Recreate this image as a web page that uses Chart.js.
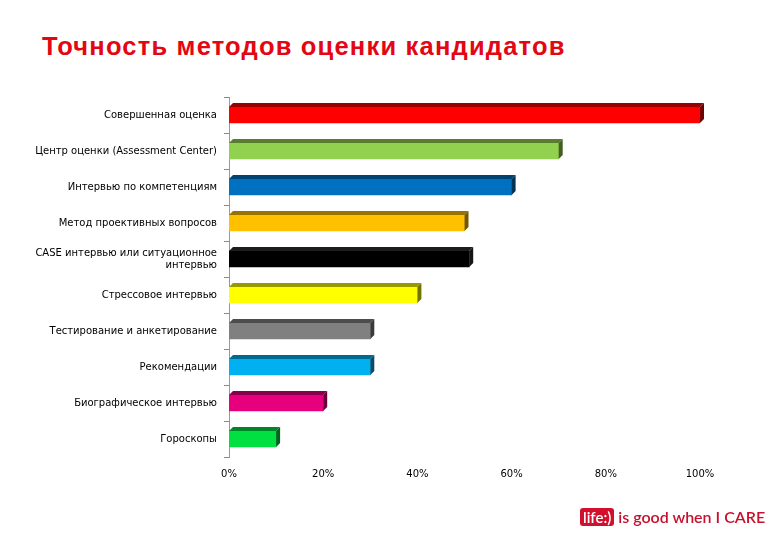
<!DOCTYPE html>
<html><head><meta charset="utf-8">
<script src="https://cdn.jsdelivr.net/npm/chart.js@4"></script>
<style>
body{margin:0;width:780px;height:540px;background:#fff;position:relative;overflow:hidden;font-family:"Liberation Sans",Arial,sans-serif}
#t{position:absolute;left:42px;top:32px;font-size:25.5px;font-weight:bold;color:#e30613;letter-spacing:1.2px}
#c{position:absolute;left:0;top:0}
#logo{position:absolute;left:580px;top:507px;font-size:16px;font-weight:600;color:#c8102e;font-family:"Lato",sans-serif;display:flex;align-items:center}
#logo span.b{background:#d2102e;color:#fff;border-radius:3px;padding:0 3px;margin-right:4px;font-size:15px}
</style></head><body>
<div id="t">Точность методов оценки кандидатов</div>
<canvas id="c" width="780" height="540"></canvas>
<div id="logo"><span class="b">life:)</span>is good when I CARE</div>
<script>
const categories=[["Совершенная оценка"],["Центр оценки (Assessment Center)"],["Интервью по компетенциям"],["Метод проективных вопросов"],["CASE интервью или ситуационное","интервью"],["Стрессовое интервью"],["Тестирование и анкетирование"],["Рекомендации"],["Биографическое интервью"],["Гороскопы"]];
const values=[100,70,60,50,51,40,30,30,20,10];
const colors=["#ff0000","#92d050","#0070c0","#ffc000","#000000","#ffff00","#808080","#00b0f0","#e6007e","#00e040"];
const xTicks=[0,20,40,60,80,100];
function dark(hex,f){const n=parseInt(hex.slice(1),16);const r=(n>>16)&255,g=(n>>8)&255,b=n&255;return `rgb(${Math.round(r*f)},${Math.round(g*f)},${Math.round(b*f)})`;}
const bar3d={id:'bar3d',afterDatasetsDraw(ch){const ctx=ch.ctx;const meta=ch.getDatasetMeta(0);const d=4;
meta.data.forEach((b,i)=>{const x0=b.base,x1=b.x,top=b.y-b.height/2,bot=b.y+b.height/2;const c=colors[i];
ctx.save();ctx.fillStyle=dark(c==="#000000"?"#303030":c,0.6);
ctx.beginPath();ctx.moveTo(x0,top);ctx.lineTo(x1,top);ctx.lineTo(x1+d,top-d);ctx.lineTo(x0+d,top-d);ctx.closePath();ctx.fill();
ctx.fillStyle=dark(c==="#000000"?"#303030":c,0.45);
ctx.beginPath();ctx.moveTo(x1,top);ctx.lineTo(x1+d,top-d);ctx.lineTo(x1+d,bot-d);ctx.lineTo(x1,bot);ctx.closePath();ctx.fill();ctx.restore();});}};
const font={family:"DejaVu Sans",size:10};
new Chart(document.getElementById('c'),{type:'bar',
data:{labels:categories,datasets:[{data:values,backgroundColor:colors,barThickness:16}]},
options:{indexAxis:'y',responsive:false,animation:false,
layout:{padding:{left:0,right:80,top:97,bottom:58}},
plugins:{legend:{display:false},tooltip:{enabled:false}},
scales:{
x:{min:0,max:100,afterBuildTicks(s){s.ticks=xTicks.map(v=>({value:v}));},afterFit(s){s.height=25;},
 grid:{display:false,drawTicks:false},border:{display:false},
 ticks:{font,color:'#000',padding:11,callback:v=>v+'%'}},
y:{afterFit(s){s.width=229;},grid:{display:true,drawOnChartArea:false,drawTicks:true,tickLength:5,offset:true,color:'#888'},border:{display:true,color:'#999'},
 ticks:{font,color:'#000',padding:7}}}},
plugins:[bar3d]});
</script></body></html>
